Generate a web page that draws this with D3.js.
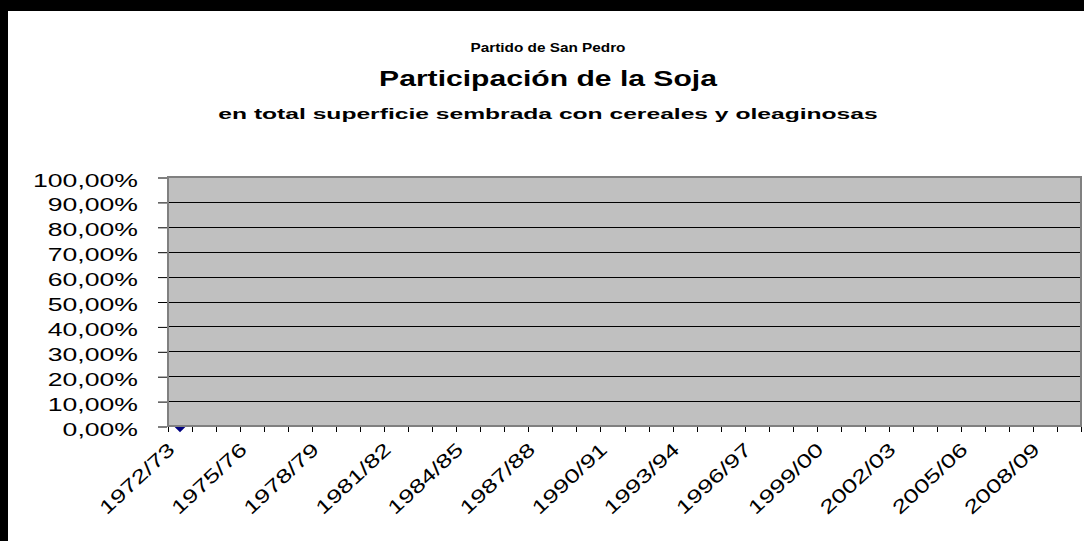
<!DOCTYPE html>
<html>
<head>
<meta charset="utf-8">
<script src="https://cdn.jsdelivr.net/npm/d3@7"></script>
<style>
  body { margin: 0; background: #000; }
  svg { display: block; }
  text { font-family: Arial, "Liberation Sans", sans-serif; fill: #000; }
</style>
</head>
<body>
<div id="chart"></div>
<script>
// campañas (eje X)
const seasons = [
  "1972/73","1973/74","1974/75","1975/76","1976/77","1977/78","1978/79","1979/80",
  "1980/81","1981/82","1982/83","1983/84","1984/85","1985/86","1986/87","1987/88",
  "1988/89","1989/90","1990/91","1991/92","1992/93","1993/94","1994/95","1995/96",
  "1996/97","1997/98","1998/99","1999/00","2000/01","2001/02","2002/03","2003/04",
  "2004/05","2005/06","2006/07","2007/08","2008/09","2009/10"
]
// etiquetas visibles del eje X
const tickLabels = ["1972/73","1975/76","1978/79","1981/82","1984/85","1987/88","1990/91",
  "1993/94","1996/97","1999/00","2002/03","2005/06","2008/09"]
// participación de la soja (solo se ve el primer punto)
const soja = [0, null, null, null, null, null, null, null, null, null, null, null, null,
  null, null, null, null, null, null, null, null, null, null, null, null, null, null,
  null, null, null, null, null, null, null, null, null, null, null]
// marcas del eje Y
const yTicks = [0, 0.1, 0.2, 0.3, 0.4, 0.5, 0.6, 0.7, 0.8, 0.9, 1]

const W = 1084, H = 541
const PLOT = { LEFT: 168, RIGHT: 1081, TOP: 177, BOTTOM: 426 }
const STRETCH = 1.4

const svg = d3.select("#chart").append("svg")
  .attr("width", W).attr("height", H)

// marco negro + fondo blanco
svg.append("rect").attr("width", W).attr("height", H).attr("fill", "#000")
svg.append("rect").attr("x", 8).attr("y", 11)
  .attr("width", W - 8).attr("height", H - 11).attr("fill", "#fff")

// títulos, ancho forzado como en la imagen
const titles = [
  { text: "Partido de San Pedro", size: 13, y: 52, width: 155 },
  { text: "Participación de la Soja", size: 22.5, y: 86, width: 338 },
  { text: "en total superficie sembrada con cereales y oleaginosas", size: 15, y: 119, width: 660 }
]
titles.forEach(t => {
  const el = svg.append("text")
    .attr("x", 548).attr("y", t.y)
    .attr("text-anchor", "middle")
    .attr("font-weight", "bold")
    .attr("font-size", t.size + "px")
    .text(t.text)
  const w = el.node().getComputedTextLength()
  el.attr("transform", `translate(548,${t.y}) scale(${t.width / w},1) translate(-548,${-t.y})`)
})

const x = d3.scaleBand()
  .domain(seasons)
  .range([PLOT.LEFT, PLOT.RIGHT])
  .padding(0)

const y = d3.scaleLinear()
  .domain([0, 1])
  .range([PLOT.BOTTOM, PLOT.TOP])

const g = svg.append("g")

// marcador (queda medio tapado por el área de trazado, como en Excel)
g.selectAll(".pt")
  .data(soja.map((v, i) => ({ s: seasons[i], v })).filter(d => d.v != null))
  .enter().append("path")
  .attr("class", "pt")
  .attr("d", d3.symbol(d3.symbolSquare, 80))
  .attr("transform", d => `translate(${x(d.s) + x.bandwidth() / 2},${y(d.v)}) rotate(45)`)
  .attr("fill", "#000080")

// área de trazado
g.append("rect")
  .attr("x", PLOT.LEFT).attr("y", PLOT.TOP)
  .attr("width", PLOT.RIGHT - PLOT.LEFT).attr("height", PLOT.BOTTOM - PLOT.TOP)
  .attr("fill", "#c0c0c0")

// líneas de división
g.selectAll(".grid")
  .data(yTicks.filter(d => d > 0 && d < 1))
  .enter().append("line")
  .attr("x1", PLOT.LEFT).attr("x2", PLOT.RIGHT)
  .attr("y1", d => Math.round(y(d)) + 0.5).attr("y2", d => Math.round(y(d)) + 0.5)
  .attr("stroke", "#000").attr("stroke-width", 1)

g.append("rect")
  .attr("x", PLOT.LEFT).attr("y", PLOT.TOP)
  .attr("width", PLOT.RIGHT - PLOT.LEFT).attr("height", PLOT.BOTTOM - PLOT.TOP)
  .attr("fill", "none").attr("stroke", "#808080").attr("stroke-width", 2)

// eje Y
const pct = d3.formatLocale({ decimal: ",", thousands: ".", grouping: [3], currency: ["", ""] }).format(".2%")
const yAxis = g.append("g")
  .attr("transform", `translate(${PLOT.LEFT - 1},0)`)
  .call(d3.axisLeft(y).tickValues(yTicks).tickSize(9).tickPadding(0).tickFormat(pct))
yAxis.select(".domain").remove()
yAxis.selectAll(".tick line").attr("stroke", "#000").attr("transform", "translate(0,0.5)")
yAxis.selectAll(".tick text")
  .attr("x", null).attr("dy", null)
  .attr("font-size", "19px")
  .attr("font-family", null)
  .attr("transform", "translate(-29,9) scale(" + STRETCH + ",1)")

// eje X: marcas entre categorías
const bounds = d3.range(seasons.length + 1).map(i => PLOT.LEFT + i * x.step())
g.selectAll(".xtick")
  .data(bounds)
  .enter().append("line")
  .attr("x1", d => Math.round(d) + 0.5).attr("x2", d => Math.round(d) + 0.5)
  .attr("y1", PLOT.BOTTOM + 1).attr("y2", PLOT.BOTTOM + 6)
  .attr("stroke", "#000")

const xAxis = g.append("g")
  .attr("transform", `translate(0,${PLOT.BOTTOM})`)
  .call(d3.axisBottom(x).tickValues(tickLabels).tickSize(0))
xAxis.select(".domain").remove()
xAxis.selectAll(".tick text")
  .attr("y", null).attr("dy", null)
  .attr("font-size", "19px")
  .attr("font-family", null)
  .attr("text-anchor", "end")
  .attr("transform", `translate(-4,25) rotate(-43) scale(1.38,1)`)
</script>
</body>
</html>
